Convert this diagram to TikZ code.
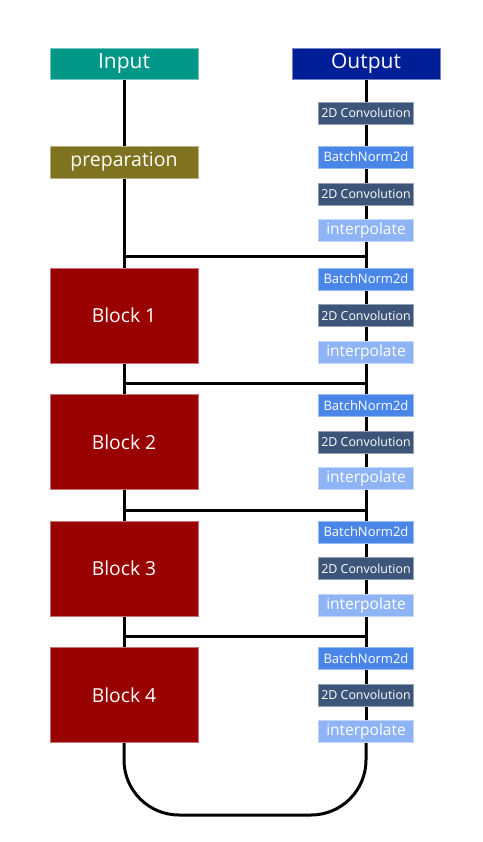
\documentclass[tikz,border=0pt]{standalone}
\usepackage{fontspec}
\setmainfont{Open Sans}
\usetikzlibrary{backgrounds}
\definecolor{inputc}{HTML}{009688}
\definecolor{outputc}{HTML}{001F96}
\definecolor{prepc}{HTML}{7F7320}
\definecolor{blockc}{HTML}{990000}
\definecolor{convc}{HTML}{3D5579}
\definecolor{bnc}{HTML}{4A86E8}
\definecolor{interpc}{HTML}{8FB4F5}
\tikzset{
  box/.style={draw=#1!55!white, fill=#1, line width=0.8pt, text=white, inner sep=0pt},
  bigbox/.style={box=#1, minimum width=148pt, minimum height=31pt, font=\fontsize{19.5}{22}\selectfont},
  blockbox/.style={box=blockc, minimum width=148pt, minimum height=95pt, font=\fontsize{19.3}{22}\selectfont},
  smallbox/.style={box=#1, minimum width=95pt, minimum height=22pt, font=\fontsize{12.4}{14}\selectfont},
  normbox/.style={smallbox=bnc, font=\fontsize{13}{14}\selectfont},
  interpbox/.style={smallbox=interpc, font=\fontsize{15.5}{17}\selectfont},
  wire/.style={line width=3pt, black}
}

\begin{document}
\begin{tikzpicture}[x=1pt, y=-1pt]
		%%%%% START %%%%%
		\useasboundingbox (0, 0) rectangle (482, 842);
		
		\node[bigbox=inputc] (in) at (124, 63.5) {\fontsize{21}{22}\selectfont Input};
		\node[bigbox=outputc] (out) at (366, 63.5) {\fontsize{21}{22}\selectfont Output};
		\node[bigbox=prepc, minimum height=32pt] (prep) at (124, 162) {preparation};
		
		\node[smallbox=convc] (c0) at (366, 113) {2D Convolution};
		\node[normbox] (n0) at (366, 157) {BatchNorm2d};
		\node[smallbox=convc] (c1) at (366, 194) {2D Convolution};
		\node[interpbox] (i0) at (366, 230) {interpolate};
		
		\foreach \k/\y in {1/315.5, 2/442, 3/568.5, 4/695} {
			\node[blockbox] (b\k) at (124, \y) {Block \k};
			\node[normbox] (n\k) at (366, \y-36.5) {BatchNorm2d};
			\node[smallbox=convc] (c\k c) at (366, \y) {2D Convolution};
			\node[interpbox] (i\k) at (366, \y+36.5) {interpolate};
		}
		
		\coordinate (j1) at (124, 256);   \coordinate (k1) at (366, 256);
		\coordinate (j2) at (124, 383);   \coordinate (k2) at (366, 383);
		\coordinate (j3) at (124, 510);   \coordinate (k3) at (366, 510);
		\coordinate (j4) at (124, 636);   \coordinate (k4) at (366, 636);
		\coordinate (bot) at (245, 815);
		
		\begin{scope}[on background layer]
			% left path
			\draw[wire] (in.south) -- (prep.north);
			\draw[wire] (prep.south) -- (b1.north);
			\draw[wire] (b1.south) -- (b2.north);
			\draw[wire] (b2.south) -- (b3.north);
			\draw[wire] (b3.south) -- (b4.north);
			% right path
			\draw[wire] (out.south) -- (c0.north);
			\draw[wire] (c0.south) -- (n0.north);
			\draw[wire] (n0.south) -- (c1.north);
			\draw[wire] (c1.south) -- (i0.north);
			\draw[wire] (i0.south) -- (n1.north);
			\foreach \k [count=\m from 2] in {1, 2, 3} {
				\draw[wire] (n\k.south) -- (c\k c.north);
				\draw[wire] (c\k c.south) -- (i\k.north);
				\draw[wire] (i\k.south) -- (n\m.north);
			}
			\draw[wire] (n4.south) -- (c4c.north);
			\draw[wire] (c4c.south) -- (i4.north);
			% skips
			\foreach \k in {1, 2, 3, 4}
				\draw[wire] (j\k) -- (k\k);
			\draw[wire, rounded corners=55pt] (b4.south) |- (bot) -| (i4.south);
		\end{scope}
		%%%%% END %%%%%
\end{tikzpicture}
\end{document}
